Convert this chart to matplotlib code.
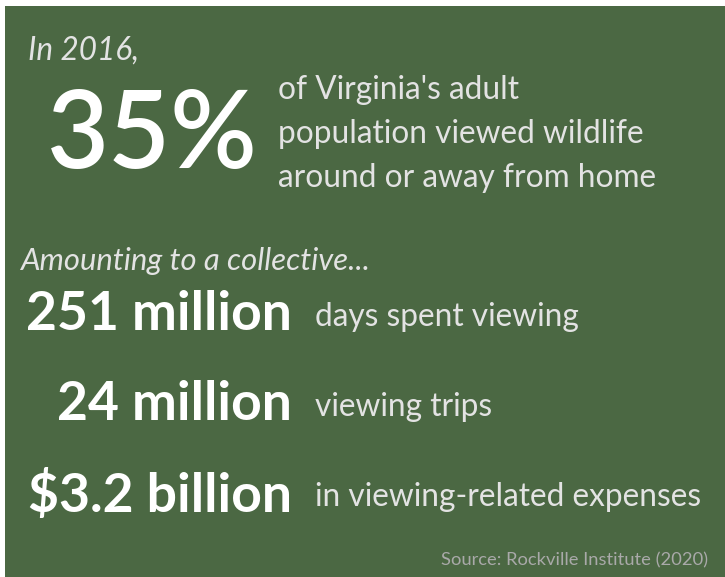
import matplotlib
matplotlib.use('Agg')
import matplotlib.pyplot as plt
from matplotlib.patches import Rectangle

W, H = 725, 577
BG = '#4b6843'
LIGHT = '#e3e3e3'

year_label = 'In 2016,'
headline_value = '35%'
headline_text = ["of Virginia's adult", 'population viewed wildlife', 'around or away from home']
intro_label = 'Amounting to a collective...'
stat_values = ['251 million', '24 million', '$3.2 billion']
stat_labels = ['days spent viewing', 'viewing trips', 'in viewing-related expenses']
source = 'Source: Rockville Institute (2020)'

plt.rcParams['font.family'] = ['Lato', 'DejaVu Sans']

fig = plt.figure(figsize=(W / 100, H / 100), dpi=100)
fig.patch.set_facecolor('white')
fig.add_artist(Rectangle((5 / W, 0), 1, 1 - 6 / H, transform=fig.transFigure,
                         facecolor=BG, edgecolor='none'))


def px(x, y):
    return x / W, 1 - y / H


fig.text(*px(28, 51), year_label, color=LIGHT, fontsize=22.7, style='italic',
         va='center', ha='left')
fig.text(*px(152, 137), headline_value, color='white', fontsize=77, fontweight='semibold',
         va='center', ha='center')
for i, line in enumerate(headline_text):
    fig.text(*px(278, 90 + 44 * i), line, color=LIGHT, fontsize=22.8, va='center', ha='left')

fig.text(*px(20, 261), intro_label, color=LIGHT, fontsize=22.3, style='italic',
         va='center', ha='left')

for i, (v, lab) in enumerate(zip(stat_values, stat_labels)):
    y = 315 + 90 * i
    fig.text(*px(292, y), v, color='white', fontsize=38.5, fontweight='bold',
             va='center', ha='right')
    fig.text(*px(315, y + 2), lab, color=LIGHT, fontsize=22.8, va='center', ha='left')

fig.text(*px(708, 560), source, color='#a9a9a9', fontsize=13.2, va='center', ha='right')

fig.savefig('out.png', dpi=100, facecolor=fig.get_facecolor())
